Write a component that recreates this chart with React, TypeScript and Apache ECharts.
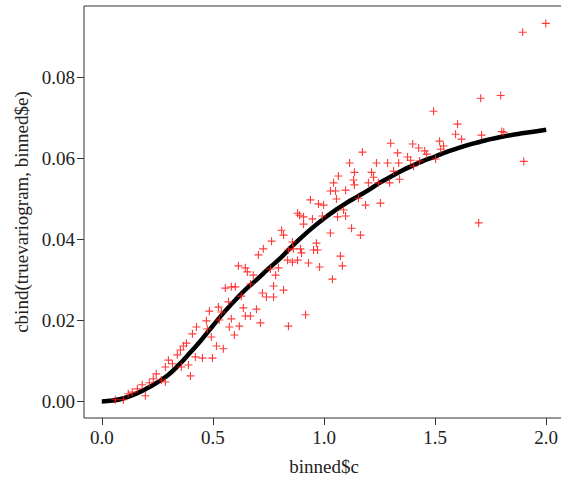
import React, { useEffect, useRef } from "react";
import * as echarts from "echarts";

// truevariogram (black curve)
const curveX = [0, 0.05, 0.1, 0.15, 0.2, 0.25, 0.3, 0.35, 0.4, 0.45, 0.5, 0.55, 0.6, 0.65, 0.7, 0.75, 0.8, 0.85, 0.9, 0.95, 1.0, 1.05, 1.1, 1.15, 1.2, 1.25, 1.3, 1.35, 1.4, 1.45, 1.5, 1.55, 1.6, 1.65, 1.7, 1.75, 1.8, 1.85, 1.9, 1.95, 2.0];
const curveY = [0.0, 0.0002, 0.0008, 0.0018, 0.0031, 0.0047, 0.0066, 0.0092, 0.0122, 0.0153, 0.0187, 0.022, 0.025, 0.0278, 0.0302, 0.0328, 0.0352, 0.038, 0.0406, 0.043, 0.0452, 0.0472, 0.049, 0.0506, 0.0522, 0.054, 0.0555, 0.057, 0.0583, 0.0595, 0.0605, 0.0616, 0.0625, 0.0634, 0.0641, 0.0648, 0.0654, 0.0659, 0.0663, 0.0667, 0.0671];

// binned$c / binned$e (red crosses)
const binnedC = [
  0.061, 0.097, 0.119, 0.137, 0.16, 0.182, 0.196, 0.214, 0.232, 0.245, 0.268, 0.286, 0.286, 0.3,
  0.318, 0.34, 0.354, 0.358, 0.367, 0.381, 0.39, 0.399, 0.408, 0.421, 0.426, 0.453, 0.471, 0.475, 0.484, 0.493, 0.498, 0.516, 0.525, 0.529, 0.538, 0.547, 0.556, 0.57, 0.574, 0.583, 0.583, 0.597, 0.601, 0.615, 0.619,
  1.065, 1.043, 1.029, 1.052, 1.056, 0.939, 0.975, 0.998, 0.881, 0.89, 0.908, 0.908, 0.948, 0.993, 1.061, 0.809, 0.818, 0.764, 0.727, 0.705, 0.858, 0.966, 0.953, 0.971, 0.894, 0.862, 0.84, 0.899, 1.029, 0.836, 0.858, 0.881, 0.93, 0.98, 1.038, 0.646, 0.655, 0.759, 0.795, 0.782, 0.682, 0.669, 0.773, 0.818, 0.723, 0.741, 0.773, 0.628,
  1.088, 1.097, 1.074, 1.083, 1.097, 1.115, 1.124, 1.133, 1.137, 1.137, 1.155, 1.164, 1.173, 1.187, 1.2, 1.214, 1.223, 1.236, 1.245, 1.254, 1.286, 1.295, 1.3, 1.313, 1.331, 1.336, 1.34, 1.376, 1.39, 1.399, 1.403, 1.426, 1.43, 1.453, 1.462, 1.493, 1.502, 1.52, 1.525, 1.538, 1.592, 1.601, 1.619, 1.696, 1.705, 1.709, 1.795, 1.8, 1.809, 1.894, 1.899, 1.998,
  0.637, 0.646, 0.669, 0.696, 0.714, 0.84, 0.917,
];
const binnedE = [
  0.0004, 0.0004, 0.0019, 0.0023, 0.0031, 0.0041, 0.0014, 0.0046, 0.0056, 0.0068, 0.0053, 0.0048, 0.0085, 0.0102,
  0.0093, 0.0115, 0.0127, 0.0085, 0.0137, 0.0144, 0.009, 0.0063, 0.0167, 0.011, 0.0184, 0.0107, 0.0199, 0.0179, 0.0223, 0.0159, 0.0107, 0.0137, 0.0233, 0.0201, 0.0221, 0.013, 0.028, 0.0246, 0.0184, 0.0204, 0.0283, 0.0164, 0.0283, 0.0335, 0.0186,
  0.0557, 0.054, 0.052, 0.052, 0.05, 0.0498, 0.0488, 0.0485, 0.0465, 0.046, 0.0456, 0.0438, 0.0451, 0.0458, 0.0456, 0.0423, 0.0411, 0.0396, 0.0377, 0.0362, 0.0394, 0.0391, 0.0374, 0.0374, 0.0377, 0.0377, 0.0374, 0.0367, 0.0416, 0.0349, 0.0344, 0.0349, 0.0342, 0.0332, 0.0302, 0.033, 0.032, 0.0327, 0.033, 0.0312, 0.0312, 0.029, 0.0285, 0.0275, 0.0268, 0.0258, 0.0258, 0.026,
  0.0473, 0.0458, 0.0359, 0.0335, 0.0522, 0.0589, 0.0428, 0.0547, 0.0566, 0.0535, 0.0502, 0.0411, 0.0616, 0.0485, 0.054, 0.0566, 0.0554, 0.0589, 0.054, 0.049, 0.0589, 0.054, 0.0638, 0.0569, 0.0614, 0.0589, 0.0549, 0.0604, 0.0596, 0.0636, 0.0581, 0.0626, 0.0594, 0.0619, 0.0611, 0.0717, 0.0599, 0.0643, 0.0623, 0.0631, 0.066, 0.0685, 0.0648, 0.0441, 0.0749, 0.0658, 0.0756, 0.0667, 0.0665, 0.0912, 0.0593, 0.0934,
  0.0231, 0.0211, 0.0211, 0.0228, 0.0194, 0.0186, 0.0214,
];

const xTicks = [0, 0.5, 1.0, 1.5, 2.0];
const yTicks = [0, 0.02, 0.04, 0.06, 0.08];

const FONT = "Liberation Serif";
const CROSS = "path://M4.3,0 H5.7 V4.3 H10 V5.7 H5.7 V10 H4.3 V5.7 H0 V4.3 H4.3 Z";

export default function App() {
  const ref = useRef<HTMLDivElement>(null);
  useEffect(() => {
    const chart = echarts.init(ref.current!, null, { renderer: "svg" });
    const curveData = curveX.map((x, i) => [x, curveY[i]]);
    const redData = binnedC.map((x, i) => [x, binnedE[i]]);
    chart.setOption({
      animation: false,
      textStyle: { fontFamily: FONT },
      grid: {
        left: 84,
        right: -3,
        top: 6,
        bottom: 62,
        show: true,
        borderColor: "#333",
        borderWidth: 1,
        backgroundColor: "transparent",
        containLabel: false,
        outerBoundsMode: "none",
      },
      xAxis: {
        type: "value",
        min: -0.08,
        max: 2.08,
        name: "binned$c",
        nameLocation: "middle",
        nameGap: 39,
        nameTextStyle: { fontFamily: FONT, fontSize: 19, color: "#222" },
        axisLine: { show: false, onZero: false },
        axisTick: { show: true, length: 7, customValues: xTicks, lineStyle: { color: "#333", width: 1 } },
        axisLabel: {
          customValues: xTicks,
          formatter: (v: number) => v.toFixed(1),
          fontFamily: FONT,
          fontSize: 19,
          color: "#222",
          margin: 10,
        },
        splitLine: { show: false },
      },
      yAxis: {
        type: "value",
        min: -0.0041,
        max: 0.0977,
        name: "cbind(truevariogram, binned$e)",
        nameLocation: "middle",
        nameGap: 52,
        nameTextStyle: { fontFamily: FONT, fontSize: 19, color: "#222" },
        axisLine: { show: false, onZero: false },
        axisTick: { show: true, length: 7, customValues: yTicks, lineStyle: { color: "#333", width: 1 } },
        axisLabel: {
          customValues: yTicks,
          formatter: (v: number) => v.toFixed(2),
          fontFamily: FONT,
          fontSize: 19,
          color: "#222",
          margin: 9,
        },
        splitLine: { show: false },
      },
      series: [
        {
          type: "line",
          data: curveData,
          smooth: true,
          symbol: "none",
          lineStyle: { color: "#000", width: 4.5 },
          z: 2,
        },
        {
          type: "scatter",
          data: redData,
          symbol: CROSS,
          symbolSize: 8,
          itemStyle: { color: "#ff1a1a", opacity: 0.85 },
          z: 3,
        },
      ],
    });
    return () => chart.dispose();
  }, []);
  return (
    <div
      ref={ref}
      style={{ position: "fixed", left: 0, top: 0, width: 561, height: 480, background: "#fff" }}
    />
  );
}
